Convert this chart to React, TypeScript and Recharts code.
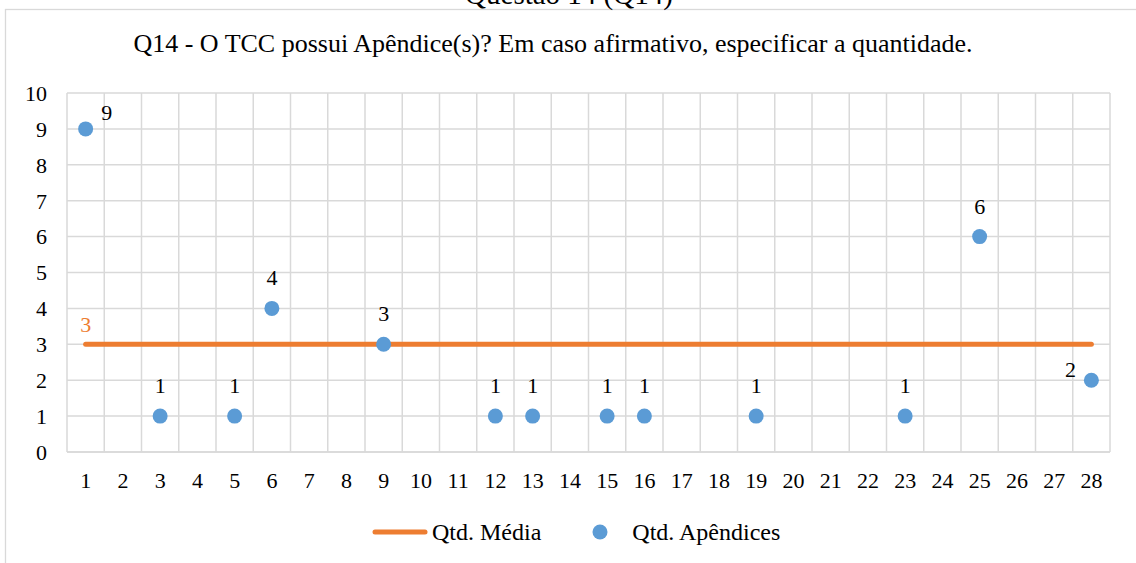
import React from 'react';
import { ComposedChart, Line, Scatter, XAxis, YAxis, CartesianGrid, Legend } from 'recharts';

const categories = [1, 2, 3, 4, 5, 6, 7, 8, 9, 10, 11, 12, 13, 14, 15, 16, 17, 18, 19, 20, 21, 22, 23, 24, 25, 26, 27, 28];
const mediaValues = [3, 3, 3, 3, 3, 3, 3, 3, 3, 3, 3, 3, 3, 3, 3, 3, 3, 3, 3, 3, 3, 3, 3, 3, 3, 3, 3, 3];
const apendiceCategories = [1, 3, 5, 6, 9, 12, 13, 15, 16, 19, 23, 25, 28];
const apendiceValues = [9, 1, 1, 4, 3, 1, 1, 1, 1, 1, 1, 6, 2];
const yTicks = [0, 1, 2, 3, 4, 5, 6, 7, 8, 9, 10];

const outerTitle = 'Questão 14 (Q14)';
const chartTitle = 'Q14 - O TCC possui Apêndice(s)? Em caso afirmativo, especificar a quantidade.';
const mediaName = 'Qtd. Média';
const apendiceName = 'Qtd. Apêndices';

const BLUE = '#5B9BD5';
const ORANGE = '#ED7D31';
const GRID = '#D9D9D9';
const FONT = '"Liberation Serif", "Times New Roman", serif';
const FS = 22;
const LEGEND_FS = 24;

const lineData = categories.map((c, i) => ({ x: c, media: mediaValues[i] }));
const scatterData = apendiceCategories.map((c, i) => ({ x: c, apendices: apendiceValues[i] }));
const xDomain = [categories[0] - 0.5, categories[categories.length - 1] + 0.5];
const gridTicks = [categories[0] - 0.5, ...categories.map((c) => c + 0.5)];

const placement = (cat: number) =>
  cat === categories[0] ? 'topRight' : cat === categories[categories.length - 1] ? 'left' : 'top';

const ScatterShape = (props: any) => {
  const { cx, cy, payload } = props;
  const p = placement(payload.x);
  let tx = cx;
  let ty = cy - 23;
  if (p === 'topRight') {
    tx = cx + 21;
    ty = cy - 9;
  } else if (p === 'left') {
    tx = cx - 21;
    ty = cy - 3;
  }
  return (
    <g>
      <circle cx={cx} cy={cy} r={7.5} fill={BLUE} />
      <text x={tx} y={ty} textAnchor="middle" fontSize={FS} fontFamily={FONT} fill="#000">
        {payload.apendices}
      </text>
    </g>
  );
};

const MediaDot = (props: any) => {
  const { cx, cy, index, payload } = props;
  if (index !== 0) return <g key={`md-${index}`} />;
  return (
    <text key={`md-${index}`} x={cx} y={cy - 12} textAnchor="middle" fontSize={FS} fontFamily={FONT} fill={ORANGE}>
      {payload.media}
    </text>
  );
};

const renderLegend = (props: any) => {
  const payload = [...(props.payload || [])].sort(
    (a: any, b: any) => (a.type === 'line' ? 0 : 1) - (b.type === 'line' ? 0 : 1)
  );
  return (
    <div style={{ display: 'flex', alignItems: 'center', height: 30, fontFamily: FONT, fontSize: LEGEND_FS, color: '#000' }}>
      {payload.map((entry: any, i: number) => (
        <div key={i} style={{ display: 'flex', alignItems: 'center', marginRight: 31 }}>
          <svg width={56} height={16} style={{ display: 'block' }}>
            {entry.type === 'line' ? (
              <line x1={3} y1={8} x2={53} y2={8} stroke={ORANGE} strokeWidth={5} strokeLinecap="round" />
            ) : (
              <circle cx={28} cy={8} r={7.5} fill={BLUE} />
            )}
          </svg>
          <span style={{ marginLeft: 4, whiteSpace: 'nowrap' }}>{entry.value}</span>
        </div>
      ))}
    </div>
  );
};

export default function App() {
  return (
    <div style={{ position: 'absolute', left: 0, top: 0, width: 1136, height: 563, overflow: 'hidden', background: '#fff' }}>
      <svg width={1136} height={563} style={{ position: 'absolute', left: 0, top: 0 }}>
        <rect x={5.5} y={9.5} width={1200} height={600} fill="#fff" stroke={GRID} strokeWidth={1.3} />
        <text x={569} y={4} textAnchor="middle" fontSize={29} fontFamily={FONT} fill="#000">
          {outerTitle}
        </text>
        <text x={553} y={52} textAnchor="middle" fontSize={26} fontFamily={FONT} fill="#000">
          {chartTitle}
        </text>
      </svg>
      <div style={{ position: 'absolute', left: 0, top: 0 }}>
        <ComposedChart width={1136} height={563} data={lineData} margin={{ top: 93, right: 26, bottom: 71, left: 0 }}>
          <XAxis xAxisId="grid" type="number" dataKey="x" domain={xDomain} ticks={gridTicks} hide />
          <CartesianGrid xAxisId="grid" stroke={GRID} strokeWidth={1.5} />
          <XAxis
            type="number"
            dataKey="x"
            domain={xDomain}
            ticks={categories}
            interval={0}
            tickLine={false}
            axisLine={{ stroke: GRID, strokeWidth: 1.5 }}
            tickMargin={14}
            height={40}
            tick={{ fill: '#000', fontSize: FS, fontFamily: FONT }}
          />
          <YAxis
            type="number"
            domain={[0, 10]}
            ticks={yTicks}
            interval={0}
            tickLine={false}
            axisLine={false}
            width={67}
            tickMargin={14}
            tick={{ fill: '#000', fontSize: FS, fontFamily: FONT }}
          />
          <Line
            type="linear"
            dataKey="media"
            name={mediaName}
            stroke={ORANGE}
            strokeWidth={5}
            strokeLinecap="round"
            dot={MediaDot}
            activeDot={false}
            legendType="line"
            isAnimationActive={false}
          />
          <Scatter
            data={scatterData}
            dataKey="apendices"
            name={apendiceName}
            fill={BLUE}
            shape={ScatterShape}
            legendType="circle"
            isAnimationActive={false}
          />
          <Legend
            layout="horizontal"
            verticalAlign="middle"
            align="center"
            wrapperStyle={{ top: 517, left: 372, width: 600 }}
            content={renderLegend}
          />
        </ComposedChart>
      </div>
    </div>
  );
}
